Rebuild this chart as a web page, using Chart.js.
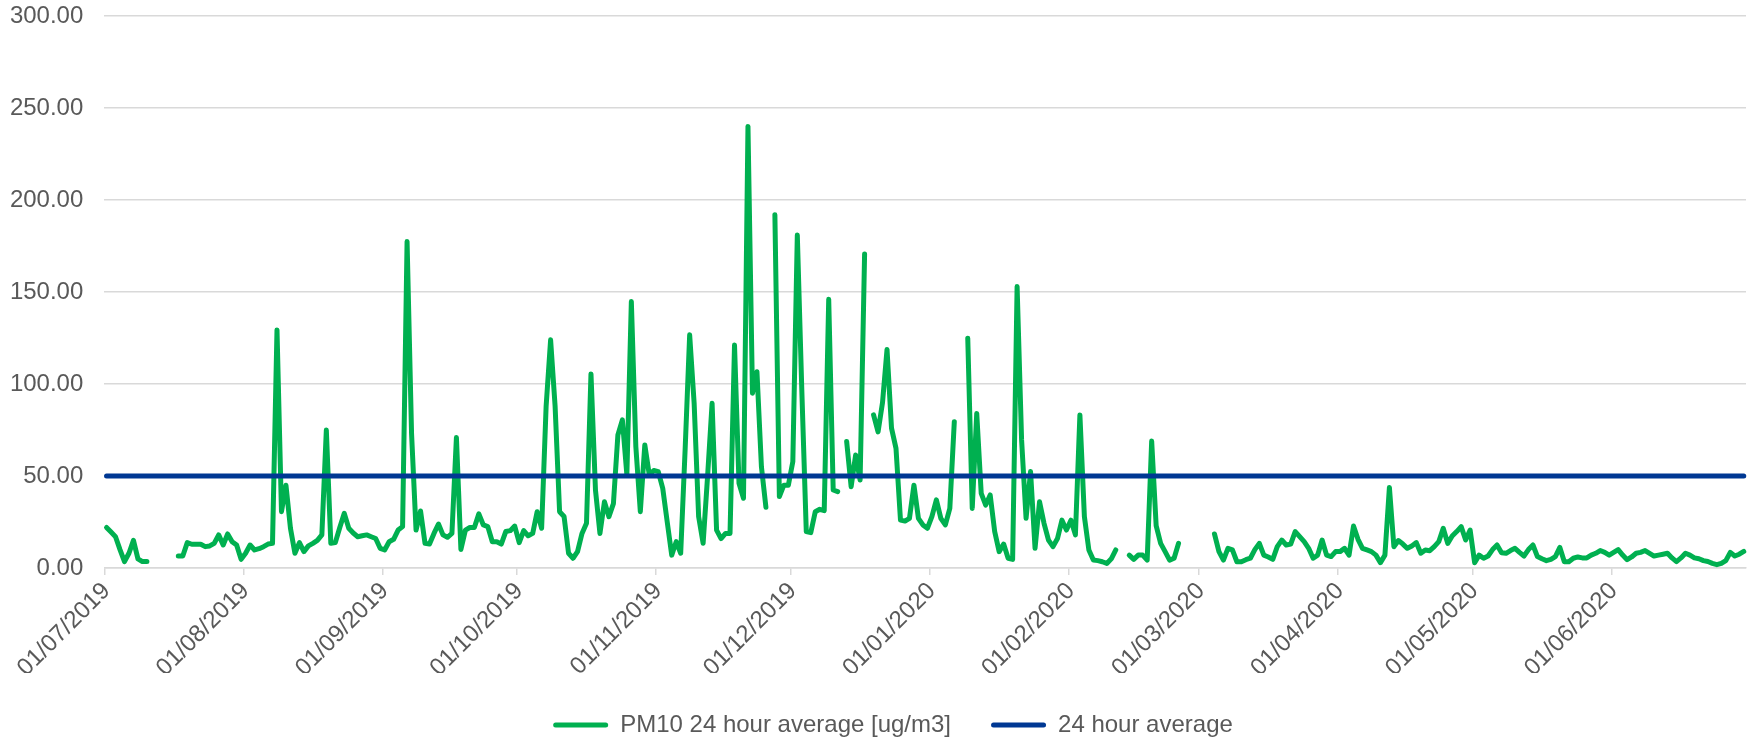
<!DOCTYPE html>
<html>
<head>
<meta charset="utf-8">
<script src="https://cdn.jsdelivr.net/npm/chart.js@4.4.1/dist/chart.umd.min.js"></script>
<style>
    html, body { margin: 0; padding: 0; background: #ffffff; }
    #wrap { width: 1750px; height: 739px; position: relative; }
</style>
</head>
<body>
<div id="wrap"><canvas id="pmChart"></canvas></div>
<script>
// daily PM10 readings, 01/07/2019 - 30/06/2020 (null = no data that day)
const jul19 = [22, 19.5, 17, 10, 3.5, 8, 15, 5, 3.5, 3.5, null, null, null, null, null, null,
    6.5, 6.5, 13.8, 12.9, 12.9, 12.9, 11.6, 12, 13.4, 18, 12.5, 18.5, 14.3, 12.5, 4.7];
const aug19 = [8, 12.5, 9.8, 10.5, 11.6, 13, 13.4, 129.4, 30.6, 45, 21.6, 8, 13.8, 8.9, 12, 13.4,
    15, 18, 75, 13.4, 13.8, 22, 29.7, 21.6, 19, 17, 17.5, 18, 17, 16, 10.7];
const sep19 = [9.8, 14.3, 15.6, 20.6, 22.5, 177.4, 73, 20.6, 31, 13.4, 13, 18.8, 23.9, 18, 16.7,
    18.8, 70.9, 10.1, 20.6, 22, 22, 29.4, 23.4, 22.5, 14.3, 14.3, 13, 19.8, 20.3, 22.8];
const oct19 = [13.8, 20.3, 17.5, 18.8, 30.6, 21.6, 88, 124, 88, 30.6, 28, 8, 5.3, 8.9, 18.8, 24.3,
    105.5, 42.4, 18.8, 36, 27.9, 35, 72.3, 80.5, 50.6, 144.8, 66, 30.6, 66.9, 50.6, 53];
const nov19 = [52.4, 43.3, 25, 7, 14.3, 8, 65, 126.7, 89.5, 27.9, 13.4, 50, 89.5, 20.6, 16, 18.8,
    18.8, 121.2, 46, 37.9, 240, 95, 106.7, 55, 33, null, 192, 38.8, 45, 45];
const dec19 = [57.8, 181, 96.8, 19.8, 19.2, 30.6, 31.9, 31.2, 146, 42.4, 41.5, null, 68.7, 44.2,
    61.4, 47.8, 170.7, null, 83.2, 74, 90, 118.8, 76, 65, 26, 25.5, 27, 45, 27, 23.4, 21.6];
const jan20 = [27.9, 37, 27, 23.4, 32.4, 79.5, null, null, 124.8, 32.4, 84, 40.6, 34.2, 39.7, 19.8,
    8.9, 13, 5.3, 4.7, 153, 69.6, 27, 52.4, 10.7, 36, 24.3, 15.2, 11.6, 16, 26, 20.6];
const feb20 = [26, 18, 83.2, 27.9, 9.8, 4.3, 4, 3.4, 2.5, 5, 9.8, null, null, 7, 4.7, 7, 7, 4.3,
    69, 23, 13.4, 8.9, 4.3, 5.3, 13.4, null, null, null, null];
const mar20 = [null, null, null, 18.5, 8.9, 4.3, 10.7, 9.8, 3.4, 3.4, 4.5, 5.3, 10, 13.4, 7, 6, 4.7,
    11.6, 15.2, 12.5, 13, 19.8, 17, 14.3, 10.7, 5.3, 7, 15.2, 7, 6.2, 8.9];
const apr20 = [8.9, 10.7, 7, 22.8, 15.6, 10.7, 9.8, 8.9, 7, 2.9, 7, 43.8, 11.6, 14.9, 13, 10.7, 12,
    13.8, 8, 9.8, 9.4, 11.6, 14.3, 21.6, 13.4, 17.4, 19.8, 22.5, 15.2, 20.6];
const may20 = [2.9, 7, 5.3, 6.5, 10, 12.5, 8.3, 8, 9.5, 10.7, 8.5, 6.5, 10, 12.5, 6.2, 5, 4, 4.7,
    6.2, 11.2, 3.4, 3.4, 5.3, 6, 5.5, 5.5, 7, 8, 9.5, 8.5, 7];
const jun20 = [8.5, 10, 7, 4.5, 6, 8, 8.5, 9.5, 8, 6.5, 7, 7.5, 8, 5.5, 3.5, 5.5, 8, 7, 5.5, 5, 4,
    3.5, 2.5, 1.8, 2.5, 4, 8.5, 6.5, 7.5, 9];

const pm10 = [].concat(jul19, aug19, sep19, oct19, nov19, dec19, jan20, feb20, mar20, apr20, may20, jun20);
const limitValue = 50; // 24 hour average line

// one label per day, dd/mm/yyyy
const days = [];
for (let i = 0; i < pm10.length; i++) {
    const dt = new Date(Date.UTC(2019, 6, 1 + i));
    const dd = String(dt.getUTCDate()).padStart(2, '0');
    const mm = String(dt.getUTCMonth() + 1).padStart(2, '0');
    days.push(dd + '/' + mm + '/' + dt.getUTCFullYear());
}

const textGrey = '#595959';
const gridGrey = '#d9d9d9';
const font = { family: "'Liberation Sans', Arial, sans-serif", size: 24 };

// tick marks only on the first of each month (index == length is the right edge)
function isMonthStart(i) {
    if (typeof i !== 'number') return false;
    if (i === days.length) return true;
    const d = days[i];
    return typeof d === 'string' && d.startsWith('01/');
}

// legend sits a bit right of the canvas centre in the original
const legendShift = {
    id: 'legendShift',
    afterLayout(ch) {
        if (ch.legend) {
            ch.legend.left += 20;
            ch.legend.right += 20;
        }
    }
};

const ctx = document.getElementById('pmChart').getContext('2d');
const chart = new Chart(ctx, {
    type: 'line',
    data: {
        labels: days,
        datasets: [{
            label: 'PM10 24 hour average [ug/m3]',
            data: pm10,
            borderColor: '#00b050',
            backgroundColor: '#00b050',
            borderWidth: 5,
            pointRadius: 0,
            tension: 0,
            spanGaps: false,
            borderJoinStyle: 'round',
            borderCapStyle: 'round',
            order: 1
        }, {
            label: '24 hour average',
            data: days.map(() => limitValue),
            borderColor: '#003893',
            backgroundColor: '#003893',
            borderWidth: 5,
            pointRadius: 0,
            borderCapStyle: 'round',
            order: 0
        }]
    },
    options: {
        responsive: true,
        maintainAspectRatio: false,
        animation: false,
        layout: { padding: { left: 0, right: 4, top: 16, bottom: -8 } },
        scales: {
            x: {
                type: 'category',
                offset: true,
                grid: {
                    offset: true,
                    drawOnChartArea: false,
                    tickLength: 7,
                    lineWidth: 1.5,
                    color: (c) => isMonthStart(c.index) ? gridGrey : 'rgba(0,0,0,0)'
                },
                border: { display: true, color: gridGrey, width: 1.5 },
                ticks: {
                    autoSkip: false,
                    minRotation: 45,
                    maxRotation: 45,
                    padding: 2,
                    color: textGrey,
                    font: font,
                    callback: (v, i) => isMonthStart(i) ? days[i] : ''
                },
                afterFit: (s) => {
                    s.height = 105;
                    s.paddingLeft = 0;
                    s.paddingRight = 0;
                }
            },
            y: {
                min: 0,
                max: 300,
                ticks: {
                    stepSize: 50,
                    padding: 0,
                    color: textGrey,
                    font: font,
                    callback: (v) => Number(v).toFixed(2)
                },
                grid: {
                    color: gridGrey,
                    lineWidth: 1.5,
                    drawTicks: true,
                    tickLength: 21,
                    tickColor: 'rgba(0,0,0,0)'
                },
                border: { display: false },
                afterFit: (s) => { s.width = 104.3; }
            }
        },
        plugins: {
            tooltip: { enabled: false },
            legend: {
                position: 'bottom',
                labels: {
                    boxWidth: 55,
                    boxHeight: 5,
                    useBorderRadius: true,
                    borderRadius: 2.5,
                    padding: 40,
                    color: textGrey,
                    font: font,
                    sort: (a, b) => a.datasetIndex - b.datasetIndex,
                    generateLabels: (ch) => Chart.defaults.plugins.legend.labels.generateLabels(ch)
                        .map(item => Object.assign(item, { lineWidth: 0 }))
                }
            }
        }
    },
    plugins: [legendShift]
});
</script>
</body>
</html>
